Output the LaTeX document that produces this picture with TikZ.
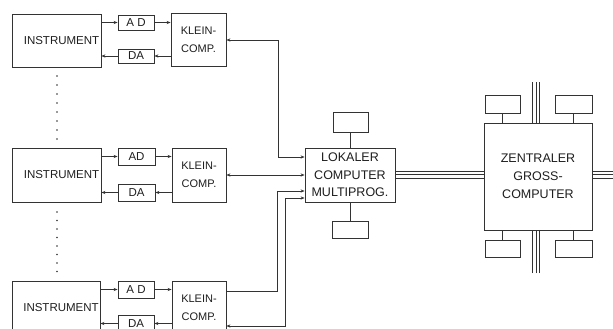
\documentclass[tikz,border=0pt]{standalone}
\usepackage{fontspec}
\setmainfont{Liberation Sans}
\usetikzlibrary{arrows.meta,calc}
\definecolor{ink}{HTML}{333333}
\definecolor{txt}{HTML}{1E1E1E}
\tikzset{
  x=1pt,y=-1pt,
  box/.style={draw=ink,line width=0.8pt,inner sep=0pt,align=center,text=txt},
  inst/.style={box,minimum width=89pt,minimum height=53pt,font=\fontsize{11.5}{12}\selectfont},
  conv/.style={box,minimum width=36pt,minimum height=15pt,font=\fontsize{11.5}{13}\selectfont},
  klein/.style={box,minimum width=55pt,minimum height=53pt,font=\fontsize{11}{17.5}\selectfont},
  big/.style={box,font=\fontsize{12.5}{17.5}\selectfont},
  dev/.style={box,minimum width=35pt,minimum height=18pt},
  wire/.style={draw=ink,line width=0.8pt},
  arr/.style={wire,-{Stealth[length=4pt,width=3.2pt]}},
  darr/.style={wire,{Stealth[length=4pt,width=3.2pt]}-{Stealth[length=4pt,width=3.2pt]}},
  dot/.style={fill=ink,circle,inner sep=0pt,minimum size=1.8pt},
}
\begin{document}
\begin{tikzpicture}
\clip (0,0) rectangle (613,329);
\fill[white] (0,0) rectangle (613,329);

% row 1
\node[inst] (inst1) at (56.5,40.5) {\hspace*{10pt}INSTRUMENT};
\node[conv] (ad1) at (136,22.5) {A D};
\node[conv,minimum height=14pt] (da1) at (136,56) {DA};
\node[klein] (kc1) at (198.5,40) {KLEIN-\\COMP.};
% row 2
\node[inst,minimum height=54pt] (inst2) at (56.5,175) {\hspace*{10pt}INSTRUMENT};
\node[conv,minimum width=37pt,minimum height=17pt] (ad2) at (136.5,156.5) {AD};
\node[conv,minimum width=37pt,minimum height=17pt] (da2) at (136.5,192.5) {DA};
\node[klein,minimum width=54pt,minimum height=54pt] (kc2) at (199,175) {KLEIN-\\COMP.};
% row 3
\node[inst,minimum width=88pt,minimum height=54pt] (inst3) at (56,308) {\hspace*{10pt}INSTRUMENT};
\node[conv,minimum height=17pt] (ad3) at (136,289.5) {A D};
\node[conv,minimum height=17pt] (da3) at (136,323.5) {DA};
\node[klein,minimum width=54pt,minimum height=54pt] (kc3) at (199,308) {KLEIN-\\COMP.};

% dots
\foreach \y in {76,85,94,103,112,121,130,139,212,220.5,229,237.5,246,254.5,263,271.5}
  \node[dot] at (57,\y) {};

% row arrows
\foreach \i in {1,2,3}{
  \draw[arr] (ad\i.west -| inst\i.east) -- (ad\i.west);
  \draw[arr] (ad\i.east) -- (ad\i.east -| kc\i.west);
  \draw[arr] (da\i.east -| kc\i.west) -- (da\i.east);
  \draw[arr] (da\i.west) -- (da\i.west -| inst\i.east);
}

% local computer
\node[big,minimum width=90pt,minimum height=54pt] (lok) at (350,175) {LOKALER\\COMPUTER\\MULTIPROG.};
\node[dev,minimum height=20pt] (lokt) at (350.5,122) {};
\node[dev,minimum width=36pt,minimum height=17pt] (lokb) at (350,229.5) {};
\draw[wire] (lokt) -- (lokt |- lok.north);
\draw[wire] (lokb) -- (lokb |- lok.south);

% connections to local computer
\coordinate (b1) at (278,157);
\coordinate (b3) at (277,191);
\coordinate (b4) at (285,198);
\draw[darr] (kc1.east) -| (b1) -- (b1 -| lok.west);
\draw[darr] (kc2.east) -- (lok.west);
\draw[arr] ([yshift=17pt]kc3.east) -| (b3) -- (b3 -| lok.west);
\draw[darr] ([yshift=-18pt]kc3.east) -| (b4) -- (b4 -| lok.west);

% central computer
\node[big,minimum width=108pt,minimum height=107pt,font=\fontsize{12.5}{18}\selectfont] (zen) at (538,176.5) {ZENTRALER\\GROSS-\\COMPUTER};
\node[dev] (zt1) at (502.5,104) {};
\node[dev,minimum width=37pt] (zt2) at (573.5,104) {};
\node[dev,minimum height=17pt] (zb1) at (502.5,248.5) {};
\node[dev,minimum width=37pt,minimum height=17pt] (zb2) at (573.5,248.5) {};
\foreach \n in {zt1,zt2}{\draw[wire] (\n) -- (\n |- zen.north);}
\foreach \n in {zb1,zb2}{\draw[wire] (\n) -- (\n |- zen.south);}

% buses
\coordinate (vt) at (536,82);
\coordinate (vb) at (536,273);
\coordinate (redge) at (613,174.5);
\foreach \d in {-3.5,0,3.5}{
  \draw[wire,line width=0.7pt] ([yshift=\d pt]lok.east |- 0,174.5) -- ([yshift=\d pt]zen.west |- 0,174.5);
  \draw[wire,line width=0.7pt] ([yshift=\d pt]zen.east |- redge) -- ([yshift=\d pt]redge);
  \draw[wire,line width=0.7pt] ([xshift=\d pt]vt) -- ([xshift=\d pt]vt |- zen.north);
  \draw[wire,line width=0.7pt] ([xshift=\d pt]vb) -- ([xshift=\d pt]vb |- zen.south);
}
\end{tikzpicture}
\end{document}
